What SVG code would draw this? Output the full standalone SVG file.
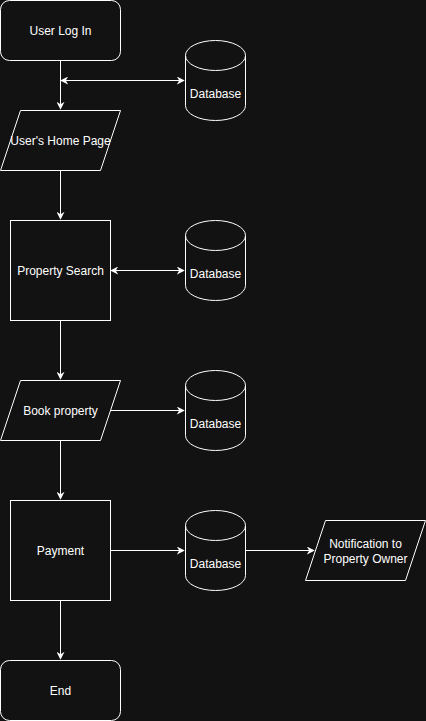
<svg xmlns="http://www.w3.org/2000/svg" width="426" height="721" viewBox="0 0 426 721">
<style>
.s{fill:#121212;stroke:#ffffff;stroke-width:1}
.t{fill:#ffffff;font-family:"Liberation Sans",Arial,sans-serif;font-size:12px;text-anchor:middle;dominant-baseline:central}
.c{fill:none;stroke:#ffffff;stroke-width:1}
</style>
<defs>
<marker id="a" viewBox="0 0 10 10" refX="9" refY="5" markerWidth="8" markerHeight="8" markerUnits="userSpaceOnUse" orient="auto-start-reverse">
<path d="M0,0 L10,5 L0,10 L3,5 Z" fill="#ffffff"/>
</marker>
</defs>
<rect width="426" height="721" fill="#121212"/>
<g id="connectors">
<path class="c" d="M60.5,60.5 V109" marker-end="url(#a)"/>
<path class="c" d="M61,80.5 H184" marker-start="url(#a)" marker-end="url(#a)"/>
<path class="c" d="M60.5,170.5 V219" marker-end="url(#a)"/>
<path class="c" d="M111,270.5 H184" marker-start="url(#a)" marker-end="url(#a)"/>
<path class="c" d="M60.5,320.5 V379" marker-end="url(#a)"/>
<path class="c" d="M110,410.5 H184" marker-end="url(#a)"/>
<path class="c" d="M60.5,440.5 V499" marker-end="url(#a)"/>
<path class="c" d="M110.5,550.5 H184" marker-end="url(#a)"/>
<path class="c" d="M245.5,550.5 H314" marker-end="url(#a)"/>
<path class="c" d="M60.5,600.5 V659" marker-end="url(#a)"/>
</g>
<g id="login">
<rect class="s" x="0.5" y="0.5" width="120" height="60" rx="9"/>
<text class="t" x="60.5" y="30.5">User Log In</text>
</g>
<g id="db1">
<path class="s" d="M185.5,55.5 A30,15 0 0 1 245.5,55.5 V105.5 A30,15 0 0 1 185.5,105.5 Z"/>
<path class="c" d="M185.5,55.5 A30,15 0 0 0 245.5,55.5"/>
<text class="t" x="215.5" y="93.5">Database</text>
</g>
<g id="home">
<path class="s" d="M20.5,110.5 H120.5 L100.5,170.5 H0.5 Z"/>
<text class="t" x="60.5" y="140.5">User's Home Page</text>
</g>
<g id="search">
<rect class="s" x="10.5" y="220.5" width="100" height="100"/>
<text class="t" x="60.5" y="270.5">Property Search</text>
</g>
<g id="db2">
<path class="s" d="M185.5,235.5 A30,15 0 0 1 245.5,235.5 V285.5 A30,15 0 0 1 185.5,285.5 Z"/>
<path class="c" d="M185.5,235.5 A30,15 0 0 0 245.5,235.5"/>
<text class="t" x="215.5" y="273.5">Database</text>
</g>
<g id="book">
<path class="s" d="M20.5,380.5 H120.5 L100.5,440.5 H0.5 Z"/>
<text class="t" x="60.5" y="410.5">Book property</text>
</g>
<g id="db3">
<path class="s" d="M185.5,385.5 A30,15 0 0 1 245.5,385.5 V435.5 A30,15 0 0 1 185.5,435.5 Z"/>
<path class="c" d="M185.5,385.5 A30,15 0 0 0 245.5,385.5"/>
<text class="t" x="215.5" y="423.5">Database</text>
</g>
<g id="payment">
<rect class="s" x="10.5" y="500.5" width="100" height="100"/>
<text class="t" x="60.5" y="550.5">Payment</text>
</g>
<g id="db4">
<path class="s" d="M185.5,525.5 A30,15 0 0 1 245.5,525.5 V575.5 A30,15 0 0 1 185.5,575.5 Z"/>
<path class="c" d="M185.5,525.5 A30,15 0 0 0 245.5,525.5"/>
<text class="t" x="215.5" y="563.5">Database</text>
</g>
<g id="notify">
<path class="s" d="M325.5,520.5 H425.5 L405.5,580.5 H305.5 Z"/>
<text class="t" x="365.5" y="543.5">Notification to</text>
<text class="t" x="365.5" y="559">Property Owner</text>
</g>
<g id="end">
<rect class="s" x="0.5" y="660.5" width="120" height="60" rx="9"/>
<text class="t" x="60.5" y="690.5">End</text>
</g>
</svg>
